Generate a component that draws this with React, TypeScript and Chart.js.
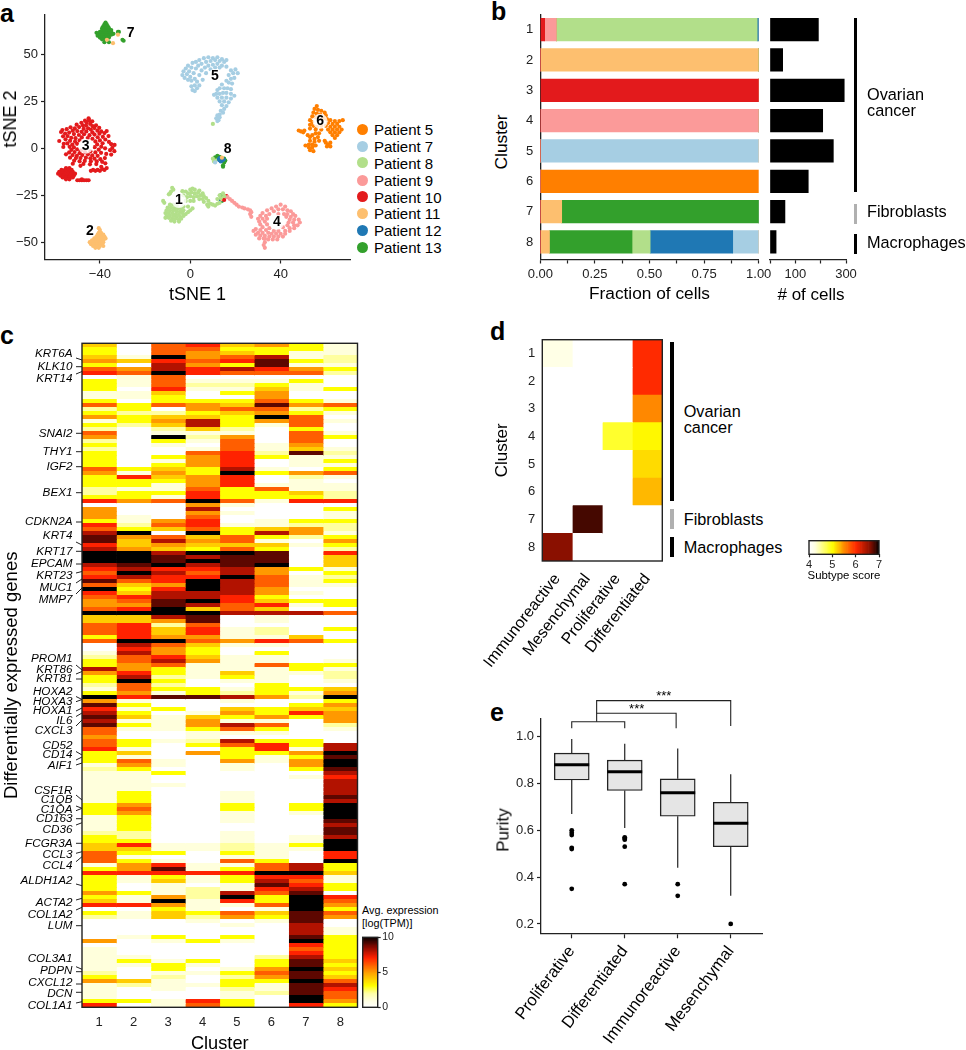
import React, { useEffect, useRef } from "react";
import { Chart, registerables } from "chart.js";

Chart.register(...registerables);

const FONT = '"Liberation Sans", Arial, sans-serif';
const INK = "#222222";

/* ---------- panel a: tSNE ---------- */
const patientNames = ["Patient 5", "Patient 7", "Patient 8", "Patient 9", "Patient 10", "Patient 11", "Patient 12", "Patient 13"];
const patientColors = ["#ff7f00", "#a6cee3", "#b2df8a", "#fb9a99", "#e31a1c", "#fdbf6f", "#1f78b4", "#33a02c"];
const legendY = [129, 146, 162.7, 180, 196.7, 213.3, 230, 247];

const p5 = [56,22.5,55,21,56.5,20.5,58,20,54.5,19,56,18.5,57.5,18,59.5,19,60,17.5,54,17,55.5,16.5,53,15,54,14,59,16,60.5,15.5,62,15,64,14.5,66,14.5,67.5,15,61,13.5,63,13,65,13,53,12.5,54.5,12,56,11.5,58,12,60,12,62,11.5,64,11.5,66,11.5,63,10,65,10,67,10,61,10,58,10,55.5,10,53,10.5,62,8.5,64,8.5,66,8.5,63,7,65,7,48,9.5,49,9,50,8.5,50.5,9.5,52,7,53,6,54,7,55.5,8,57,8,56.5,6,55,5,53,4,55,3.5,57,4,54,2,52.5,2,51,1.5,52.5,0.5,54,0.5,55.5,1.5,53,-1,54.5,-1.5,60,3,61,2,62,3,60.5,1,62,1,59.5,4,64,5.5];
const p7 = [-3.5,39,-3,41,-2.5,37.5,-2,42.5,-1.5,39.5,-1,36.5,-1,44,-0.5,41,0,38,0.5,43,0.5,36,1,45.5,1.5,40,2,37,2.5,42.5,2.5,46,3,35.5,3.5,44,4,39,4,47,5,41.5,5,45,5.5,36.5,6,48,6.5,43,7,46,7,40,8,48.5,8,44,9,46.5,9,42,10,48,10,44.5,11,47,11,43,12,48.5,12,45,13,46.5,13,43,14,47.5,14,44,15,46,16,47,16,43.5,0.5,33,1,31,2,33.5,2,30.5,3,32,4,33.5,17,39,18,41.5,19,40,20,42,21,40,19.5,37.5,18,37,17,35,18.5,34.5,16,36,14,34,15,32,16.5,32,18,31.5,13,32,12,31,10.5,28.5,11.5,29,13,29,14.5,29.5,16,29.5,18,29,19.5,28,12,27,14,27,16,27,18,26.5,13,25,15,25,17,24.5,14,23,16,22.5,15,21,13.5,20,14.5,19,13,18,12,17.5,13,16.5,11.5,16,12.5,15,12,14.5,11,-7.5];
const p8 = [10,13,-8,-21,-7.5,-22,-8.5,-23,-9,-24,-9.5,-24.5,-12,-28,-11.5,-29,-3.5,-22.8,-2,-23,0,-22,1,-21.5,2,-22,-1,-24,0.5,-23.5,2,-24,3.5,-23.5,4,-22.5,-3,-25,-1.5,-26,0,-25.5,1.5,-26,3,-25.5,4.5,-25,5.5,-24,6,-25.5,-2,-28,0,-28,1.5,-28,4,-27,5.5,-27,7,-26.5,6,-28.5,8,-28,7.5,-30,9,-29.5,10,-30,8,-31,11,-30.5,12,-29.5,13,-29,12,-27,13,-25,14.5,-24,13.5,-26.5,15,-25.5,-9,-30,-7.5,-30,-6,-30.5,-3,-31,-1,-31,-10,-31.5,-8.5,-31.5,-7,-32,-5.5,-32,-4,-32,-10.5,-33,-9,-33,-7.5,-33,-6,-33.5,-4.5,-33.5,-3,-33,1,-32,0,-33,-11,-34.5,-9.5,-34.5,-8,-34.5,-6.5,-35,-5,-35,-3.5,-34.5,-1,-34,-2,-35,-10.5,-36,-9,-36,-7.5,-36,-6,-36.5,-4.5,-36.5,-3,-36,-9.5,-37,-8,-37.5,-6.5,-37.5,-5,-38,-4,-37.5,-7,-39,-5,-39,-11,-37,-8.5,-38.5,10,-5.5,10.5,-7,11,-6.5];
const p9 = [16.5,-26,17.5,-27,18.5,-28,19.5,-29,20.5,-30,21.5,-31,23,-31.5,24,-32,25.5,-32.5,26.5,-33,27,-34,26.5,-35,27,-36.5,33,-48,33,-50,32.5,-51.5,33,-53,40,-30,38,-31,42,-31,36,-32,39,-32.5,41,-32.5,43,-33,34,-33,37,-33.5,44.5,-33.5,32,-34.5,35,-35,39,-35,41.5,-35,43,-35,45.5,-35,31,-36,33.5,-36,42.5,-36.5,44.5,-36.5,46.5,-36,30,-37.5,32,-37.5,34,-37.5,44,-38,46,-38,48,-38,30.5,-39,33,-39,43.5,-39.5,45.5,-39.5,48.5,-39.5,31,-40.5,34,-40.5,43,-41,46,-41,47.5,-41,32,-42,35,-42.5,41,-42,44,-42.5,46,-42.5,29,-43,31,-43.5,33.5,-43.5,37,-44,39,-44,42,-44,44,-44,28,-44,30,-45,32,-45,34.5,-45,36,-45.5,38,-45.5,40,-45.5,42,-45.5,29,-46,31,-46.5,33,-46.5,35,-47,37,-47,39,-47,41,-47,30.5,-48,32.5,-48,34.5,-48.5,36.5,-48.5,38.5,-48.5];
const p10 = [-45,16,-46.6,14.7,-44.8,15,-43.4,14.4,-48.2,13.6,-45.9,13.8,-44.3,13,-50.3,12.6,-47.5,12.2,-46.1,12.1,-43.2,11.8,-41.7,12.3,-53,11.2,-51.1,10.6,-49.2,11.3,-47.2,10.4,-45.2,10.7,-44,10,-42.4,10.8,-40.3,10.9,-56.6,9.7,-54.7,10.2,-52,9.4,-50,9.2,-48.1,8.8,-46,9,-43.3,8.5,-41.1,9.4,-39.4,9,-37,9.2,-57.2,8.7,-55.4,7.9,-53.6,8.4,-51.5,7.6,-49.3,7.1,-47,7.5,-44.6,7,-42.4,7.3,-40.2,7.8,-38,8.1,-56.3,6.4,-54.3,6.5,-52.7,5.6,-50.8,5.4,-48,5.8,-45.4,5.5,-43.3,5.1,-41,5.9,-38.7,6.1,-36.2,6.5,-55.2,4.8,-53.2,4,-51,3.6,-49,4.2,-42,3.7,-40,4.2,-37.6,4.7,-58,3.9,-54.4,2.6,-52.2,2,-50.1,2.4,-41.2,2.1,-38.8,2.7,-36,3.4,-56,2.4,-53.4,0.8,-51.5,0.5,-42.3,0.6,-39.4,0.9,-35,2.2,-33.5,1.8,-56.2,0.7,-52.6,-0.8,-50,-0.5,-48.4,-1.2,-40.5,-0.7,-37.7,0,-34.5,0.2,-53.6,-2.2,-51.2,-2,-49,-2.6,-46.6,-2,-44.2,-1.6,-42,-2.2,-39.5,-2.4,-35.5,-1,-33.6,-1.5,-55,-3.2,-52.1,-3.6,-50.2,-4,-47.8,-3.6,-45.3,-3.2,-43.4,-3.8,-41,-4,-37.2,-3,-35,-3.3,-53.2,-5,-50.6,-5.2,-48.6,-5.2,-46.2,-5,-44.2,-5.3,-42.4,-5.5,-39.8,-5.8,-37.8,-5.2,-51.4,-6.6,-49,-6.9,-46.7,-6.7,-44,-6.9,-41.4,-7,-39,-7.2,-52,-8.2,-47.3,-8.3,-44.4,-8.5,-41.6,-8.4,-37.6,-8,-48.6,-9.3,-39.4,-9.8,-44,-12,-43,-11.5,-42,-12,-41,-11.5,-40,-12,-39,-11,-38,-11.5,-37,-10.5,-55,-10.5,-53.5,-10.5,-57,-11.5,-55.5,-11.5,-54,-11.5,-52.5,-11.5,-58,-12.5,-56.5,-12.5,-55,-12.5,-53.5,-12.5,-52,-12.5,-58.5,-13.5,-57,-13.5,-55.5,-13.5,-54,-13.5,-52.5,-13.5,-51,-13.5,-57.5,-14.5,-56,-14.5,-54.5,-14.5,-53,-14.5,-51.5,-14.5,-56.5,-15.5,-55,-15.5,-53.5,-15.5,-52,-15.5,-55,-16.5,-53.5,-16.5,-50,-17,-49,-17,-48,-17,-47,-17,-46,-17,-45,-17,-48,-16.5,16,-25.5,15,-27.5];
const p11 = [-40.5,-42.5,-40,-43.5,-40.5,-45,-39.5,-45,-41,-46,-40,-46,-38.5,-46,-41.5,-47,-40.5,-47,-39.5,-47,-38,-47,-42.5,-48,-41.5,-48,-40.5,-48,-39.5,-48,-38.5,-48,-37.5,-48,-43.5,-49,-42.5,-49,-41.5,-49,-40.5,-49,-39.5,-49,-38.5,-49,-44.5,-50,-43.5,-50,-42.5,-50,-41.5,-50,-40.5,-50,-39.5,-50,-38.5,-50,-44,-51,-43,-51,-42,-51,-41,-51,-40,-51,-39,-51,-43,-52,-42,-52,-41,-52,-40,-52,-38.5,-52,-42,-53,-40.5,-53,-32,60.5,-36.9,57.8,-34.2,56,14,-5,14,-27];
const p12 = [13,-5.2,14,-5.5,13,-6.3,14,-6.5,14.8,-6,13.5,-7,12.5,-6,13.5,-27.5];
const p13 = [-37.5,67,-38,66,-37,66,-38.5,65,-37.5,65,-36.5,65,-39,64,-38,64,-37,64,-36,64,-39,63,-38,63,-37,63,-36,63,-35,63,-40,62,-39,62,-38,62,-37,62,-36,62,-35,62,-41.5,61.5,-40.5,61,-39.5,61,-38.5,61,-37.5,61,-36.5,61,-35.5,61,-34,61,-41,60,-40,60,-39,60,-38,60,-37,60,-36,60,-35,60.5,-40,59,-39,59,-38,59,-37,59,-36,59,-39,58,-37.5,58,-38,56.5,-36,56.5,-31.6,62,-29.5,57.3,-30,57.8,-32,62,12,-4,11,-4.8,13,-4.5,15,-5.5,15.5,-6.5,14.5,-9,14.5,-9.8,15,-7.5,13.5,-25,14,-28];
const patientPoints = [p5, p7, p8, p9, p10, p11, p12, p13];

const clusterNames = ["1", "2", "3", "4", "5", "6", "7", "8"];
const clusterX = [-5, -44.4, -46.3, 38.3, 10.9, 57.5, -26.4, 16.5];
const clusterY = [-27.8, -44.1, 1.1, -39.3, 38.3, 14.4, 61.6, -0.5];
const clusterHalo = [true, false, true, true, true, true, false, false];

/* ---------- panel b: composition ---------- */
const stackOrder = ["Patient 10", "Patient 9", "Patient 11", "Patient 13", "Patient 8", "Patient 12", "Patient 7", "Patient 5"];
const fractionByPatient: Record<string, number[]> = {
  "Patient 10": [0.02, 0, 1, 0, 0, 0, 0, 0],
  "Patient 9": [0.053, 0, 0, 1, 0, 0, 0, 0],
  "Patient 11": [0, 1, 0, 0, 0, 0, 0.098, 0.042],
  "Patient 13": [0, 0, 0, 0, 0, 0, 0.902, 0.378],
  "Patient 8": [0.92, 0, 0, 0, 0, 0, 0, 0.083],
  "Patient 12": [0.007, 0, 0, 0, 0, 0, 0, 0.378],
  "Patient 7": [0, 0, 0, 0, 1, 0, 0, 0.119],
  "Patient 5": [0, 0, 0, 0, 0, 1, 0, 0],
};
const cellCounts = [191, 50, 293, 208, 250, 151, 59, 24];

/* ---------- panel c: heat map (each character is one cluster, 0-9, a = 10) ---------- */
const heatRows = [
"40674531","30663331","30654311","41a56812","54767932","30853911","65878753","76a76662",
"01600000","31611130","31622310","30711413","11403500","11300500","30333631","63654956",
"23056623","32234531","53443a60","13583561","32483160","20242030","60111061","50a25063",
"20316060","30106150","20016141","30067292","30357311","30157013","30357011","63438103",
"5153a356","37457021","33357010","33157111","21163611","23373342","33173332","756a6177",
"00051000","50080003","50051001","51060001","31570133","72671122","63463452","8a0a3851",
"95646323","94856105","74544413","85436302","aa8aa907","aa989904","aa9a9904","89a89a04",
"78778531","6a868503","7877a612","967a8613","645a8611","a37a8500","74888510","67887300",
"569a7433","55986713","67a46400","aaaa8886","44890100","44590100","67260000","67471203",
"67471200","37551140","6aa65763","08641100","07530000","18530300","26741100","36851101",
"35611633","85311131","57314112","38213102","3a301101","26200300","16331334","35132315",
"a799852a","51001003","93000035","71304344","83015375","94143535","81151105","93158602",
"61136301","60011100","50010000","63128330","63036738","71003718","3405335a","31003139",
"3610515a","1510105a","23001039","11300008","11000017","11000008","11100008","11000008",
"13001008","13001009","13001008","3500303a","3600303a","3500101a","1300100a","13001009",
"13000008","13000009","22001009","32001018","3300101a","4711213a","4411211a","63303107",
"61001107","6310630a","15711683","35913683","77777aa4","31313771","31413861","30101973",
"30121783","53128690","3152a3a7","41a173a6","775116a5","003101a3","31436496","21425395",
"00010190","00001080","00000081","00000081","01303093","501310a3","00000073","10000063",
"10000073","11000283","13130394","11310393","103015a4","20113693","30202594","541033a6",
"12113198","10102197","10001296","100010a6","331730a5","70163073",
];
const heatStops: [number, string][] = [[0, "#ffffff"], [1, "#ffffdc"], [2, "#ffffa0"], [3, "#ffff00"], [5, "#ff9900"], [7, "#ff2200"], [8.5, "#8b0a00"], [10, "#000000"]];
const scoreStops: [number, string][] = [[4, "#ffffff"], [4.25, "#ffffe0"], [5, "#ffff00"], [5.5, "#ff8800"], [6, "#ff2a00"], [6.6, "#8a1000"], [7, "#000000"]];

const geneNames = ["KRT6A","KLK10","KRT14","SNAI2","THY1","IGF2","BEX1","CDKN2A","KRT4","KRT17","EPCAM","KRT23","MUC1","MMP7","PROM1","KRT86","KRT81","HOXA2","HOXA3","HOXA1","IL6","CXCL3","CD52","CD14","AIF1","CSF1R","C1QB","C1QA","CD163","CD36","FCGR3A","CCL3","CCL4","ALDH1A2","ACTA2","COL1A2","LUM","COL3A1","PDPN","CXCL12","DCN","COL1A1"];
const geneLabelY = [354,366.7,378.7,433.3,451.7,466.7,492.7,522,536,551.3,564,576,588,600,659,669.3,679,691.3,701.7,711,720.7,731,745.7,755,765.3,790.7,799.7,809.3,818.7,830,843.3,854.3,866,880.3,902.7,915,925.7,959,971,982.7,993.3,1005.3];
const geneLineStart = [358,366.7,374,433.3,451.7,466.7,492.7,522,542,551.3,564,573,583,594,665,674,679,696.5,701.7,711,716.5,726,751.5,760,765,795,806,810.7,818.7,825,843.3,853.3,861.7,884,900,910,925.7,966.7,971.7,984,992.3,1003];
const geneLineEnd = [360,366.7,371.5,433.3,451.7,466.7,492.7,522,545,551.3,564,571.5,579,588,670,671.5,679,699.5,699.5,708,713,720,755,757,763,800,808.3,808.3,818.7,822.7,843.3,851.7,856.7,885.7,898.3,907.3,925.7,969.3,971.7,984,992.3,1001.7];

/* ---------- panel d: subtype scores ---------- */
const subtypeNames = ["Immunoreactive", "Mesenchymal", "Proliferative", "Differentiated"];
const immunoreactiveScore = [4.2, null, null, null, null, null, null, 6.6];
const mesenchymalScore = [null, null, null, null, null, null, 6.8, null];
const proliferativeScore = [null, null, null, 4.85, null, null, null, null];
const differentiatedScore = [6, 6, 5.5, 5.03, 5.15, 5.3, null, null];

/* ---------- panel e: purity boxes ---------- */
const purityNames = ["Proliferative", "Differentiated", "Immunoreactive", "Mesenchymal"];
const purityLowWhisker = [0.67, 0.61, 0.44, 0.32];
const purityQ1 = [0.815, 0.77, 0.66, 0.53];
const purityMedian = [0.88, 0.85, 0.76, 0.63];
const purityQ3 = [0.93, 0.9, 0.82, 0.72];
const purityHighWhisker = [0.99, 0.97, 0.95, 0.84];
const purityOutliers = [[0.6, 0.59, 0.58, 0.525, 0.52, 0.35], [0.57, 0.565, 0.56, 0.53, 0.37], [0.37, 0.32], [0.2]];

/* ---------- helpers ---------- */
function pairs(flat: number[]) {
  const out: { x: number; y: number }[] = [];
  for (let i = 0; i + 1 < flat.length; i += 2) out.push({ x: flat[i], y: flat[i + 1] });
  return out;
}
function hex(c: string) {
  return [1, 3, 5].map((i) => parseInt(c.slice(i, i + 2), 16));
}
function ramp(stops: [number, string][], v: number) {
  for (let i = 1; i < stops.length; i++) {
    if (v <= stops[i][0]) {
      const [a, ca] = stops[i - 1];
      const [b, cb] = stops[i];
      const t = Math.max(0, (v - a) / (b - a));
      const A = hex(ca), B = hex(cb);
      return `rgb(${A.map((x, k) => Math.round(x + (B[k] - x) * t)).join(",")})`;
    }
  }
  return stops[stops.length - 1][1];
}
const font = (size: number, extra: any = {}) => ({ family: FONT, size, ...extra });
const tickGrid = (len = 4) => ({ display: true, offset: false, drawOnChartArea: false, drawTicks: true, tickLength: len, tickColor: INK, tickWidth: 1.2 });
const noGrid = { display: false, drawTicks: false };
const axisBorder = { display: true, color: INK, width: 1.3 };
const setTicks = (values: number[]) => (s: any) => { s.ticks = values.map((value) => ({ value })); };
const clearPadding = (s: any) => { s.paddingLeft = 0; s.paddingRight = 0; s.paddingTop = 0; s.paddingBottom = 0; };

type Box = { l: number; t: number; r: number; b: number };

const framePlugin = {
  id: "frame",
  afterDatasetsDraw(chart: any) {
    const { ctx, chartArea: a } = chart;
    ctx.save();
    ctx.strokeStyle = INK;
    ctx.lineWidth = 1.4;
    ctx.strokeRect(a.left, a.top, a.right - a.left, a.bottom - a.top);
    ctx.restore();
  },
};

const clusterLabelPlugin = {
  id: "clusterLabels",
  afterDatasetsDraw(chart: any) {
    const { ctx, scales } = chart;
    ctx.save();
    clusterNames.forEach((name, i) => {
      const x = scales.x.getPixelForValue(clusterX[i]);
      const y = scales.y.getPixelForValue(clusterY[i]);
      if (clusterHalo[i]) {
        ctx.fillStyle = "rgba(255,255,255,0.8)";
        ctx.beginPath();
        ctx.arc(x, y, 7.5, 0, Math.PI * 2);
        ctx.fill();
      }
      ctx.fillStyle = "#000";
      ctx.font = `bold 14px ${FONT}`;
      ctx.textAlign = "center";
      ctx.textBaseline = "middle";
      ctx.fillText(name, x, y);
    });
    ctx.restore();
  },
};

const HEAT_TOP = 343.3;
const geneLabelPlugin = {
  id: "geneLabels",
  afterDraw(chart: any) {
    const { ctx, chartArea: a } = chart;
    const dy = a.top - HEAT_TOP;
    ctx.save();
    ctx.font = `italic 11.7px ${FONT}`;
    ctx.textAlign = "right";
    ctx.textBaseline = "middle";
    ctx.fillStyle = "#000";
    ctx.strokeStyle = INK;
    ctx.lineWidth = 1;
    geneNames.forEach((g, i) => {
      ctx.fillText(g, a.left - 9.5, geneLabelY[i] + dy);
      ctx.beginPath();
      ctx.moveTo(a.left - 6, geneLineStart[i] + dy);
      ctx.lineTo(a.left, geneLineEnd[i] + dy);
      ctx.stroke();
    });
    ctx.restore();
  },
};

const bracketX = [[1, 1, 2, 2], [1.47, 1.47, 2.97, 2.97], [1.47, 1.47, 4, 4]];
const bracketY = [[1.036, 1.064, 1.064, 1.036], [1.064, 1.1, 1.1, 1.036], [1.1, 1.154, 1.154, 1.046]];
const starX = [2.226, 2.736];
const starY = [1.118, 1.174];
const bracketPlugin = {
  id: "brackets",
  afterDraw(chart: any) {
    const { ctx, scales } = chart;
    ctx.save();
    ctx.strokeStyle = INK;
    ctx.lineWidth = 1.1;
    bracketX.forEach((xs, k) => {
      ctx.beginPath();
      xs.forEach((x, i) => {
        const px = scales.x.getPixelForValue(x);
        const py = scales.y.getPixelForValue(bracketY[k][i]);
        if (i === 0) ctx.moveTo(px, py);
        else ctx.lineTo(px, py);
      });
      ctx.stroke();
    });
    ctx.fillStyle = "#000";
    ctx.font = `13px ${FONT}`;
    ctx.textAlign = "center";
    ctx.textBaseline = "middle";
    starX.forEach((x, i) => ctx.fillText("***", scales.x.getPixelForValue(x), scales.y.getPixelForValue(starY[i])));
    ctx.restore();
  },
};

function ChartBox({ rect, plot, make, yRight }: { rect: Box; plot: Box; make: () => any; yRight?: boolean }) {
  const ref = useRef<HTMLCanvasElement>(null);
  useEffect(() => {
    const cfg = make();
    const yw = yRight ? rect.r - plot.r : plot.l - rect.l;
    cfg.options = {
      responsive: false,
      animation: false,
      events: [],
      ...cfg.options,
      layout: {
        autoPadding: false,
        padding: {
          left: yRight ? plot.l - rect.l : 0,
          right: yRight ? 0 : rect.r - plot.r,
          top: plot.t - rect.t,
          bottom: 0,
        },
      },
    };
    cfg.options.plugins = { legend: { display: false }, tooltip: { enabled: false }, ...(cfg.options.plugins || {}) };
    cfg.options.scales.x.afterFit = (s: any) => { s.height = rect.b - plot.b; clearPadding(s); };
    cfg.options.scales.y.afterFit = (s: any) => { s.width = yw; clearPadding(s); };
    const chart = new Chart(ref.current as HTMLCanvasElement, cfg);
    return () => chart.destroy();
  }, []);
  return (
    <canvas
      ref={ref}
      width={rect.r - rect.l}
      height={rect.b - rect.t}
      style={{ position: "absolute", left: rect.l, top: rect.t, width: rect.r - rect.l, height: rect.b - rect.t }}
    />
  );
}

function T({ x, y, size, children, anchor = "start", rotate = 0, bold = false }: any) {
  const ax = anchor === "start" ? "0%" : anchor === "center" ? "-50%" : "-100%";
  return (
    <div
      style={{
        position: "absolute", left: x, top: y, fontFamily: FONT, fontSize: size, lineHeight: 1, color: "#000",
        whiteSpace: "nowrap", fontWeight: bold ? 700 : 400,
        transform: `translate(${ax}, -50%) rotate(${rotate}deg)`,
      }}
    >
      {children}
    </div>
  );
}
function VBar({ x, y0, y1, color }: any) {
  return <div style={{ position: "absolute", left: x - 1.7, top: y0, width: 3.4, height: y1 - y0, background: color }} />;
}

/* ---------- configs ---------- */
function tsneConfig() {
  return {
    type: "scatter",
    data: {
      datasets: patientPoints.map((pts, i) => ({
        label: patientNames[i],
        data: pairs(pts),
        backgroundColor: patientColors[i],
        pointRadius: 2.1,
        pointBorderWidth: 0,
      })),
    },
    options: {
      scales: {
        x: {
          type: "linear", min: -64.3, max: 70.7, afterBuildTicks: setTicks([-40, 0, 40]),
          grid: tickGrid(), border: axisBorder,
          ticks: { color: INK, font: font(13), padding: 3, autoSkip: false, maxRotation: 0, callback: (v: number) => (v < 0 ? "\u2212" + -v : String(v)) },
          title: { display: true, text: "tSNE 1", color: "#000", font: font(18), padding: 0 },
        },
        y: {
          type: "linear", min: -59.2, max: 71, afterBuildTicks: setTicks([-50, -25, 0, 25, 50]),
          grid: tickGrid(), border: axisBorder,
          ticks: { color: INK, font: font(13), padding: 3, autoSkip: false, callback: (v: number) => (v < 0 ? "\u2212" + -v : String(v)) },
        },
      },
    },
    plugins: [clusterLabelPlugin],
  };
}

const clusterLinear = (display = true) => ({
  type: "linear", offset: false, reverse: true, min: 0.519, max: 8.577, stacked: true, afterBuildTicks: setTicks([1, 2, 3, 4, 5, 6, 7, 8]),
  grid: noGrid,
  ticks: { display, color: INK, font: font(13), padding: 7, autoSkip: false },
});

function fractionConfig() {
  return {
    type: "bar",
    data: {
      datasets: stackOrder.map((name) => ({
        label: name,
        data: fractionByPatient[name].map((x, i) => ({ x, y: i + 1 })),
        backgroundColor: patientColors[patientNames.indexOf(name)],
        barThickness: 22.6,
      })),
    },
    options: {
      indexAxis: "y",
      scales: {
        y: { ...clusterLinear(), border: axisBorder },
        x: {
          type: "linear", stacked: true, min: 0, max: 1, afterBuildTicks: setTicks([0, 0.125, 0.25, 0.375, 0.5, 0.625, 0.75, 0.875, 1]),
          grid: tickGrid(), border: axisBorder,
          ticks: { color: INK, font: font(13), padding: 3.5, autoSkip: false, maxRotation: 0, callback: (v: number) => (Number.isInteger(v * 4) ? v.toFixed(2) : "") },
          title: { display: true, text: "Fraction of cells", color: "#000", font: font(17.3), padding: 0 },
        },
      },
    },
  };
}

function countConfig() {
  return {
    type: "bar",
    data: {
      datasets: [{ label: "# of cells", data: cellCounts.map((x, i) => ({ x, y: i + 1 })), backgroundColor: "#000", barThickness: 22.6 }],
    },
    options: {
      indexAxis: "y",
      scales: {
        y: { ...clusterLinear(false), border: { display: false } },
        x: {
          type: "linear", min: 0, max: 300, afterBuildTicks: setTicks([0, 100, 200, 300]),
          grid: tickGrid(), border: axisBorder,
          ticks: { color: INK, font: font(13), padding: 3.5, autoSkip: false, maxRotation: 0, callback: (v: number) => (v === 100 || v === 300 ? String(v) : "") },
        },
      },
    },
  };
}

function heatConfig() {
  const rowLabels = heatRows.map((_, i) => String(i + 1));
  return {
    type: "bar",
    data: {
      labels: rowLabels,
      datasets: clusterNames.map((name, c) => ({
        label: "Cluster " + name,
        data: heatRows.map(() => 1),
        backgroundColor: heatRows.map((r) => ramp(heatStops, parseInt(r[c], 16))),
        barPercentage: 1,
        categoryPercentage: 1,
        borderWidth: 0,
      })),
    },
    options: {
      indexAxis: "y",
      scales: {
        y: {
          type: "category", stacked: true, grid: noGrid, border: { display: false }, ticks: { display: false },
          title: { display: true, text: "Differentially expressed genes", color: "#000", font: font(18.5), padding: 0 },
        },
        x: {
          type: "linear", stacked: true, min: 0, max: 8, afterBuildTicks: setTicks([0.5, 1.5, 2.5, 3.5, 4.5, 5.5, 6.5, 7.5]),
          grid: noGrid, border: { display: false },
          ticks: { color: INK, font: font(13), padding: 7, autoSkip: false, maxRotation: 0, callback: (v: number) => String(v + 0.5) },
          title: { display: true, text: "Cluster", color: "#000", font: font(18.2), padding: 0 },
        },
      },
    },
    plugins: [framePlugin, geneLabelPlugin],
  };
}

function colorBarConfig(stops: [number, string][], lo: number, hi: number, ticks: number[], horizontal: boolean, size: number) {
  const n = 60;
  const step = (hi - lo) / n;
  const edges = Array.from({ length: n }, (_, i) => lo + i * step);
  const valueAxis: any = {
    type: "linear", min: lo, max: hi, afterBuildTicks: setTicks(ticks),
    grid: tickGrid(3), border: { display: false },
    ticks: { color: INK, font: font(size), padding: 1.5, autoSkip: false, maxRotation: 0 },
  };
  const indexAxis: any = { type: "category", grid: noGrid, border: { display: false }, ticks: { display: false } };
  return {
    type: "bar",
    data: {
      labels: ["scale"],
      datasets: edges.map((e) => ({
        data: [[e, e + step * 1.02]],
        backgroundColor: ramp(stops, e + step / 2),
        grouped: false,
        barPercentage: 1,
        categoryPercentage: 1,
        borderWidth: 0,
      })),
    },
    options: {
      indexAxis: horizontal ? "y" : "x",
      scales: horizontal
        ? { x: valueAxis, y: indexAxis }
        : { x: indexAxis, y: { ...valueAxis, position: "right" } },
    },
    plugins: [framePlugin],
  };
}

function subtypeConfig() {
  const series = [immunoreactiveScore, mesenchymalScore, proliferativeScore, differentiatedScore];
  return {
    type: "bar",
    data: {
      labels: clusterNames,
      datasets: series.map((vals, i) => ({
        label: subtypeNames[i],
        data: vals.map(() => 1),
        backgroundColor: vals.map((v) => (v === null ? "#ffffff" : ramp(scoreStops, v))),
        barPercentage: 1,
        categoryPercentage: 1,
        borderWidth: 0,
      })),
    },
    options: {
      indexAxis: "y",
      scales: {
        y: {
          type: "category", stacked: true, grid: noGrid, border: { display: false },
          ticks: { color: INK, font: font(13), padding: 7, autoSkip: false },
          title: { display: true, text: "Cluster", color: "#000", font: font(17), padding: { top: 13.8, bottom: 13.8 } },
        },
        x: {
          type: "linear", stacked: true, min: 0, max: 4, afterBuildTicks: setTicks([0.5, 1.5, 2.5, 3.5]),
          grid: noGrid, border: { display: false },
          ticks: {
            color: "#000", font: font(16), padding: 9, autoSkip: false, minRotation: 52, maxRotation: 52,
            callback: (v: number) => subtypeNames[Math.floor(v)],
          },
        },
      },
    },
    plugins: [framePlugin],
  };
}

function purityConfig() {
  const half = 0.33;
  const idx = purityNames.map((_, i) => i + 1);
  const line = (pts: { x: number; y: number }[], width: number) => ({
    type: "scatter", data: pts, showLine: true, borderColor: INK, borderWidth: width, pointRadius: 0, fill: false,
  });
  return {
    type: "bar",
    data: {
      datasets: [
        ...idx.map((x, i) => ({ ...line([{ x: x - half, y: purityMedian[i] }, { x: x + half, y: purityMedian[i] }], 3), borderColor: "#000" })),
        {
          type: "bar",
          label: "IQR",
          data: idx.map((x, i) => ({ x, y: [purityQ1[i], purityQ3[i]] })),
          backgroundColor: "#e5e5e5",
          borderColor: INK,
          borderWidth: 1.4,
          borderSkipped: false,
          barThickness: 35,
        },
        ...idx.map((x, i) => line([{ x, y: purityLowWhisker[i] }, { x, y: purityQ1[i] }], 1.2)),
        ...idx.map((x, i) => line([{ x, y: purityQ3[i] }, { x, y: purityHighWhisker[i] }], 1.2)),
        {
          type: "scatter",
          label: "Outliers",
          data: purityOutliers.flatMap((vals, i) => vals.map((y) => ({ x: i + 1, y }))),
          backgroundColor: "#000",
          pointRadius: 2.4,
          pointBorderWidth: 0,
        },
      ],
    },
    options: {
      scales: {
        x: {
          type: "linear", offset: false, min: 0.42, max: 4.596, afterBuildTicks: setTicks([1, 2, 3, 4]),
          grid: tickGrid(5), border: axisBorder,
          ticks: {
            color: "#000", font: font(16.5), padding: 4, autoSkip: false, minRotation: 53, maxRotation: 53,
            callback: (v: number) => purityNames[v - 1],
          },
        },
        y: {
          type: "linear", min: 0.16, max: 1.0786, afterBuildTicks: setTicks([0.2, 0.4, 0.6, 0.8, 1]),
          grid: tickGrid(4), border: axisBorder,
          ticks: { color: INK, font: font(13), padding: 3, autoSkip: false, callback: (v: number) => v.toFixed(1) },
        },
      },
    },
    plugins: [bracketPlugin],
  };
}

export default function App() {
  return (
    <div style={{ position: "absolute", left: 0, top: 0, width: 966, height: 1050, overflow: "hidden", background: "#fff" }}>
      <T x={0} y={13} size={25} bold>a</T>
      <T x={491} y={11} size={25} bold>b</T>
      <T x={0} y={335} size={25} bold>c</T>
      <T x={490} y={331} size={25} bold>d</T>
      <T x={490} y={712} size={25} bold>e</T>

      {/* panel a */}
      <ChartBox rect={{ l: 0, t: 0, r: 355, b: 306 }} plot={{ l: 45, t: 15, r: 350, b: 259.5 }} make={tsneConfig} />
      <T x={10} y={119} size={18} anchor="center" rotate={-90}>tSNE 2</T>
      {patientNames.map((name, i) => (
        <React.Fragment key={name}>
          <div style={{ position: "absolute", left: 356.5, top: legendY[i] - 5.5, width: 11, height: 11, borderRadius: "50%", background: patientColors[i] }} />
          <T x={374} y={legendY[i]} size={15}>{name}</T>
        </React.Fragment>
      ))}

      {/* panel b */}
      <ChartBox rect={{ l: 515, t: 0, r: 772, b: 305 }} plot={{ l: 540.3, t: 15, r: 758.7, b: 259.5 }} make={fractionConfig} />
      <ChartBox rect={{ l: 760, t: 0, r: 890, b: 305 }} plot={{ l: 770, t: 15, r: 846, b: 259.5 }} make={countConfig} />
      <T x={502} y={142} size={17.4} anchor="center" rotate={-90}>Cluster</T>
      <T x={811} y={294} size={17} anchor="center"># of cells</T>
      <VBar x={855.7} y0={18} y1={192} color="#000" />
      <VBar x={855.7} y0={204} y1={224} color="#b0b0b0" />
      <VBar x={855.7} y0={234} y1={254} color="#000" />
      <T x={867} y={94} size={16.3}>Ovarian</T>
      <T x={867} y={110} size={16.3}>cancer</T>
      <T x={867} y={211} size={16.3}>Fibroblasts</T>
      <T x={867} y={242} size={16.3}>Macrophages</T>

      {/* panel c */}
      <ChartBox rect={{ l: 1, t: 335, r: 362, b: 1055 }} plot={{ l: 82, t: 343.3, r: 357.5, b: 1007.3 }} make={heatConfig} />
      <T x={362} y={910} size={10.8}>Avg. expression</T>
      <T x={362} y={923} size={10.8}>[log(TPM)]</T>
      <ChartBox rect={{ l: 355, t: 930, r: 410, b: 1015 }} plot={{ l: 362.7, t: 937.3, r: 377.7, b: 1007.3 }} yRight
        make={() => colorBarConfig(heatStops, 0, 10, [0, 5, 10], false, 10.5)} />

      {/* panel d */}
      <ChartBox rect={{ l: 478, t: 330, r: 668, b: 680 }} plot={{ l: 542.3, t: 339.7, r: 662.3, b: 561 }} make={subtypeConfig} />
      <VBar x={672} y0={341.7} y1={501} color="#000" />
      <VBar x={672} y0={509} y1={529} color="#b0b0b0" />
      <VBar x={672} y0={536.7} y1={557} color="#000" />
      <T x={683.7} y={411} size={16.3}>Ovarian</T>
      <T x={683.7} y={427} size={16.3}>cancer</T>
      <T x={683.7} y={519} size={16.3}>Fibroblasts</T>
      <T x={683.7} y={547} size={16.3}>Macrophages</T>
      <ChartBox rect={{ l: 800, t: 535, r: 890, b: 572 }} plot={{ l: 809, t: 540.7, r: 879, b: 554.3 }}
        make={() => colorBarConfig(scoreStops, 4, 7, [4, 5, 6, 7], true, 11)} />
      <T x={844} y={576} size={11.4} anchor="center">Subtype score</T>

      {/* panel e */}
      <ChartBox rect={{ l: 505, t: 680, r: 800, b: 1050 }} plot={{ l: 541, t: 718.3, r: 762.3, b: 933.3 }} make={purityConfig} />
      <T x={502.7} y={830} size={17} anchor="center" rotate={-90}>Purity</T>
    </div>
  );
}
